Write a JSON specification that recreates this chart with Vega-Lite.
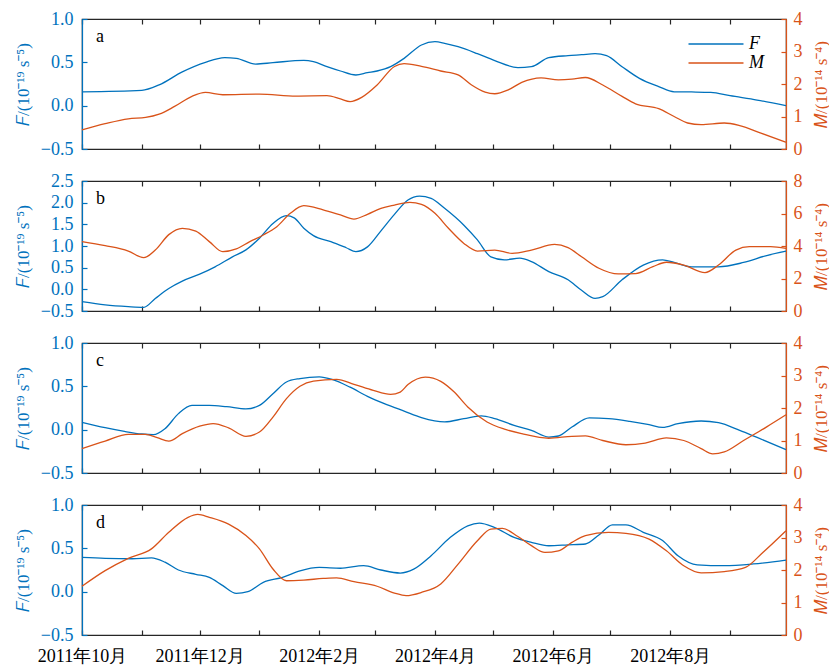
{
  "$schema": "https://vega.github.io/schema/vega-lite/v6.json",
  "background": "white",
  "padding": {"left": 13, "top": 9, "right": 0, "bottom": 5},
  "bounds": "flush",
  "spacing": 32,
  "config": {
    "view": {"stroke": "#262626", "strokeWidth": 1.2},
    "font": "Liberation Serif",
    "axis": {
      "grid": false,
      "labelFont": "Liberation Serif",
      "labelFontSize": 18,
      "titleFont": "Liberation Serif",
      "titleFontSize": 17,
      "titleFontWeight": "normal",
      "tickSize": -5,
      "tickWidth": 1.2,
      "domainWidth": 1.2
    },
    "line": {"strokeWidth": 1.3, "interpolate": "monotone"},
    "title": {"font": "Liberation Serif", "fontSize": 18, "fontWeight": "normal", "color": "#000000", "anchor": "start", "frame": "group", "offset": -36, "dx": 14, "baseline": "alphabetic"}
  },
  "datasets": {
    "aF": [
      {"t": "2011-10-01", "v": 0.16}, {"t": "2011-11-01", "v": 0.177}, {"t": "2011-11-10", "v": 0.24}, {"t": "2011-11-22", "v": 0.39},
      {"t": "2011-12-04", "v": 0.5}, {"t": "2011-12-14", "v": 0.554}, {"t": "2011-12-20", "v": 0.546}, {"t": "2011-12-30", "v": 0.48},
      {"t": "2012-01-08", "v": 0.496}, {"t": "2012-01-24", "v": 0.523}, {"t": "2012-01-29", "v": 0.508}, {"t": "2012-02-05", "v": 0.45},
      {"t": "2012-02-12", "v": 0.4}, {"t": "2012-02-20", "v": 0.354}, {"t": "2012-02-26", "v": 0.38}, {"t": "2012-03-02", "v": 0.4},
      {"t": "2012-03-09", "v": 0.45}, {"t": "2012-03-16", "v": 0.546}, {"t": "2012-03-25", "v": 0.7}, {"t": "2012-04-01", "v": 0.738},
      {"t": "2012-04-06", "v": 0.72}, {"t": "2012-04-13", "v": 0.68}, {"t": "2012-04-23", "v": 0.6}, {"t": "2012-05-02", "v": 0.52},
      {"t": "2012-05-14", "v": 0.44}, {"t": "2012-05-21", "v": 0.45}, {"t": "2012-05-30", "v": 0.554}, {"t": "2012-06-09", "v": 0.577},
      {"t": "2012-06-16", "v": 0.588}, {"t": "2012-06-23", "v": 0.6}, {"t": "2012-06-29", "v": 0.577}, {"t": "2012-07-07", "v": 0.45},
      {"t": "2012-07-16", "v": 0.315}, {"t": "2012-07-26", "v": 0.22}, {"t": "2012-08-03", "v": 0.16}, {"t": "2012-08-12", "v": 0.158},
      {"t": "2012-08-22", "v": 0.154}, {"t": "2012-09-01", "v": 0.115}, {"t": "2012-09-15", "v": 0.065}, {"t": "2012-09-30", "v": 0.0}
    ],
    "aM": [
      {"t": "2011-10-01", "v": 0.59}, {"t": "2011-10-13", "v": 0.78}, {"t": "2011-10-25", "v": 0.93}, {"t": "2011-11-03", "v": 0.97},
      {"t": "2011-11-10", "v": 1.07}, {"t": "2011-11-18", "v": 1.31}, {"t": "2011-11-27", "v": 1.62}, {"t": "2011-12-04", "v": 1.74},
      {"t": "2011-12-13", "v": 1.67}, {"t": "2012-01-01", "v": 1.69}, {"t": "2012-01-20", "v": 1.63}, {"t": "2012-02-05", "v": 1.64},
      {"t": "2012-02-12", "v": 1.54}, {"t": "2012-02-17", "v": 1.46}, {"t": "2012-02-23", "v": 1.59}, {"t": "2012-03-02", "v": 1.97},
      {"t": "2012-03-11", "v": 2.54}, {"t": "2012-03-16", "v": 2.63}, {"t": "2012-03-25", "v": 2.54}, {"t": "2012-04-04", "v": 2.4},
      {"t": "2012-04-13", "v": 2.28}, {"t": "2012-04-20", "v": 1.97}, {"t": "2012-04-27", "v": 1.75}, {"t": "2012-05-02", "v": 1.7},
      {"t": "2012-05-09", "v": 1.82}, {"t": "2012-05-16", "v": 2.05}, {"t": "2012-05-26", "v": 2.19}, {"t": "2012-06-04", "v": 2.13},
      {"t": "2012-06-11", "v": 2.15}, {"t": "2012-06-18", "v": 2.2}, {"t": "2012-06-27", "v": 1.97}, {"t": "2012-07-07", "v": 1.62},
      {"t": "2012-07-14", "v": 1.39}, {"t": "2012-07-26", "v": 1.24}, {"t": "2012-08-03", "v": 1.0}, {"t": "2012-08-10", "v": 0.8},
      {"t": "2012-08-17", "v": 0.75}, {"t": "2012-08-29", "v": 0.8}, {"t": "2012-09-06", "v": 0.72}, {"t": "2012-09-17", "v": 0.49},
      {"t": "2012-09-30", "v": 0.21}
    ],
    "bF": [
      {"t": "2011-10-01", "v": -0.285}, {"t": "2011-10-13", "v": -0.36}, {"t": "2011-10-25", "v": -0.4}, {"t": "2011-11-02", "v": -0.415},
      {"t": "2011-11-08", "v": -0.21}, {"t": "2011-11-15", "v": 0.02}, {"t": "2011-11-22", "v": 0.19}, {"t": "2011-12-01", "v": 0.35},
      {"t": "2011-12-09", "v": 0.52}, {"t": "2011-12-18", "v": 0.75}, {"t": "2011-12-25", "v": 0.91}, {"t": "2012-01-01", "v": 1.18},
      {"t": "2012-01-08", "v": 1.52}, {"t": "2012-01-15", "v": 1.7}, {"t": "2012-01-19", "v": 1.65}, {"t": "2012-01-24", "v": 1.41},
      {"t": "2012-01-29", "v": 1.24}, {"t": "2012-02-07", "v": 1.1}, {"t": "2012-02-15", "v": 0.96}, {"t": "2012-02-20", "v": 0.87},
      {"t": "2012-02-26", "v": 0.98}, {"t": "2012-03-04", "v": 1.35}, {"t": "2012-03-11", "v": 1.73}, {"t": "2012-03-18", "v": 2.06},
      {"t": "2012-03-24", "v": 2.15}, {"t": "2012-03-30", "v": 2.1}, {"t": "2012-04-06", "v": 1.87}, {"t": "2012-04-16", "v": 1.48},
      {"t": "2012-04-23", "v": 1.14}, {"t": "2012-04-30", "v": 0.75}, {"t": "2012-05-07", "v": 0.68}, {"t": "2012-05-15", "v": 0.72},
      {"t": "2012-05-21", "v": 0.64}, {"t": "2012-05-30", "v": 0.41}, {"t": "2012-06-09", "v": 0.22}, {"t": "2012-06-16", "v": -0.02},
      {"t": "2012-06-23", "v": -0.21}, {"t": "2012-06-27", "v": -0.17}, {"t": "2012-07-07", "v": 0.22}, {"t": "2012-07-18", "v": 0.56},
      {"t": "2012-07-28", "v": 0.68}, {"t": "2012-08-03", "v": 0.62}, {"t": "2012-08-12", "v": 0.52}, {"t": "2012-08-26", "v": 0.52},
      {"t": "2012-09-08", "v": 0.62}, {"t": "2012-09-20", "v": 0.78}, {"t": "2012-09-30", "v": 0.88}
    ],
    "bM": [
      {"t": "2011-10-01", "v": 4.27}, {"t": "2011-10-13", "v": 4.02}, {"t": "2011-10-25", "v": 3.69}, {"t": "2011-11-02", "v": 3.28},
      {"t": "2011-11-08", "v": 3.75}, {"t": "2011-11-15", "v": 4.7}, {"t": "2011-11-22", "v": 5.09}, {"t": "2011-11-29", "v": 4.92},
      {"t": "2011-12-06", "v": 4.27}, {"t": "2011-12-13", "v": 3.65}, {"t": "2011-12-20", "v": 3.82}, {"t": "2011-12-27", "v": 4.27},
      {"t": "2012-01-03", "v": 4.68}, {"t": "2012-01-10", "v": 5.19}, {"t": "2012-01-17", "v": 6.01}, {"t": "2012-01-24", "v": 6.48},
      {"t": "2012-02-03", "v": 6.22}, {"t": "2012-02-12", "v": 5.91}, {"t": "2012-02-19", "v": 5.66}, {"t": "2012-02-26", "v": 5.95},
      {"t": "2012-03-04", "v": 6.32}, {"t": "2012-03-11", "v": 6.52}, {"t": "2012-03-19", "v": 6.69}, {"t": "2012-03-25", "v": 6.56},
      {"t": "2012-04-01", "v": 6.01}, {"t": "2012-04-08", "v": 5.09}, {"t": "2012-04-16", "v": 4.16}, {"t": "2012-04-23", "v": 3.69},
      {"t": "2012-05-02", "v": 3.75}, {"t": "2012-05-11", "v": 3.55}, {"t": "2012-05-21", "v": 3.75}, {"t": "2012-06-02", "v": 4.1},
      {"t": "2012-06-09", "v": 3.9}, {"t": "2012-06-16", "v": 3.34}, {"t": "2012-06-25", "v": 2.63}, {"t": "2012-07-05", "v": 2.28},
      {"t": "2012-07-14", "v": 2.3}, {"t": "2012-07-23", "v": 2.73}, {"t": "2012-07-30", "v": 3.0}, {"t": "2012-08-08", "v": 2.83},
      {"t": "2012-08-19", "v": 2.36}, {"t": "2012-08-26", "v": 2.83}, {"t": "2012-09-04", "v": 3.75}, {"t": "2012-09-11", "v": 3.96},
      {"t": "2012-09-22", "v": 3.96}, {"t": "2012-09-30", "v": 3.86}
    ],
    "cF": [
      {"t": "2011-10-01", "v": 0.085}, {"t": "2011-10-13", "v": 0.023}, {"t": "2011-10-23", "v": -0.02}, {"t": "2011-11-01", "v": -0.05},
      {"t": "2011-11-07", "v": -0.058}, {"t": "2011-11-13", "v": 0.01}, {"t": "2011-11-20", "v": 0.185}, {"t": "2011-11-27", "v": 0.28},
      {"t": "2011-12-06", "v": 0.28}, {"t": "2011-12-15", "v": 0.265}, {"t": "2011-12-25", "v": 0.24}, {"t": "2012-01-01", "v": 0.28},
      {"t": "2012-01-08", "v": 0.415}, {"t": "2012-01-15", "v": 0.55}, {"t": "2012-01-22", "v": 0.59}, {"t": "2012-02-01", "v": 0.61},
      {"t": "2012-02-08", "v": 0.577}, {"t": "2012-02-17", "v": 0.49}, {"t": "2012-02-26", "v": 0.385}, {"t": "2012-03-07", "v": 0.29},
      {"t": "2012-03-16", "v": 0.215}, {"t": "2012-03-25", "v": 0.14}, {"t": "2012-04-06", "v": 0.09}, {"t": "2012-04-16", "v": 0.127},
      {"t": "2012-04-25", "v": 0.158}, {"t": "2012-05-02", "v": 0.127}, {"t": "2012-05-12", "v": 0.05}, {"t": "2012-05-21", "v": -0.008},
      {"t": "2012-05-30", "v": -0.085}, {"t": "2012-06-04", "v": -0.073}, {"t": "2012-06-11", "v": 0.03}, {"t": "2012-06-20", "v": 0.135},
      {"t": "2012-06-30", "v": 0.127}, {"t": "2012-07-11", "v": 0.096}, {"t": "2012-07-21", "v": 0.058}, {"t": "2012-07-28", "v": 0.027},
      {"t": "2012-08-05", "v": 0.07}, {"t": "2012-08-17", "v": 0.1}, {"t": "2012-08-26", "v": 0.08}, {"t": "2012-09-06", "v": -0.008},
      {"t": "2012-09-15", "v": -0.09}, {"t": "2012-09-30", "v": -0.23}
    ],
    "cM": [
      {"t": "2011-10-01", "v": 0.75}, {"t": "2011-10-13", "v": 0.98}, {"t": "2011-10-25", "v": 1.19}, {"t": "2011-11-03", "v": 1.19},
      {"t": "2011-11-09", "v": 1.09}, {"t": "2011-11-15", "v": 0.98}, {"t": "2011-11-22", "v": 1.21}, {"t": "2011-12-01", "v": 1.44},
      {"t": "2011-12-08", "v": 1.52}, {"t": "2011-12-16", "v": 1.39}, {"t": "2011-12-25", "v": 1.13}, {"t": "2012-01-01", "v": 1.26},
      {"t": "2012-01-08", "v": 1.72}, {"t": "2012-01-15", "v": 2.29}, {"t": "2012-01-22", "v": 2.67}, {"t": "2012-01-29", "v": 2.83},
      {"t": "2012-02-10", "v": 2.88}, {"t": "2012-02-19", "v": 2.73}, {"t": "2012-02-29", "v": 2.54}, {"t": "2012-03-09", "v": 2.42},
      {"t": "2012-03-14", "v": 2.49}, {"t": "2012-03-18", "v": 2.72}, {"t": "2012-03-27", "v": 2.95}, {"t": "2012-04-04", "v": 2.82},
      {"t": "2012-04-11", "v": 2.49}, {"t": "2012-04-18", "v": 2.03}, {"t": "2012-04-28", "v": 1.57}, {"t": "2012-05-07", "v": 1.35},
      {"t": "2012-05-16", "v": 1.21}, {"t": "2012-05-30", "v": 1.07}, {"t": "2012-06-11", "v": 1.13}, {"t": "2012-06-18", "v": 1.14},
      {"t": "2012-06-27", "v": 1.0}, {"t": "2012-07-09", "v": 0.87}, {"t": "2012-07-19", "v": 0.92}, {"t": "2012-07-30", "v": 1.08},
      {"t": "2012-08-08", "v": 1.0}, {"t": "2012-08-17", "v": 0.75}, {"t": "2012-08-23", "v": 0.59}, {"t": "2012-08-29", "v": 0.65},
      {"t": "2012-09-08", "v": 1.0}, {"t": "2012-09-20", "v": 1.42}, {"t": "2012-09-30", "v": 1.79}
    ],
    "dF": [
      {"t": "2011-10-01", "v": 0.396}, {"t": "2011-10-13", "v": 0.385}, {"t": "2011-10-27", "v": 0.38}, {"t": "2011-11-06", "v": 0.39},
      {"t": "2011-11-13", "v": 0.34}, {"t": "2011-11-20", "v": 0.25}, {"t": "2011-11-29", "v": 0.2}, {"t": "2011-12-06", "v": 0.165},
      {"t": "2011-12-13", "v": 0.07}, {"t": "2011-12-20", "v": -0.02}, {"t": "2011-12-26", "v": 0.0}, {"t": "2012-01-03", "v": 0.108},
      {"t": "2012-01-13", "v": 0.165}, {"t": "2012-01-22", "v": 0.24}, {"t": "2012-02-01", "v": 0.28}, {"t": "2012-02-12", "v": 0.27},
      {"t": "2012-02-24", "v": 0.3}, {"t": "2012-03-04", "v": 0.25}, {"t": "2012-03-14", "v": 0.215}, {"t": "2012-03-21", "v": 0.26},
      {"t": "2012-03-30", "v": 0.415}, {"t": "2012-04-09", "v": 0.627}, {"t": "2012-04-18", "v": 0.76}, {"t": "2012-04-24", "v": 0.79},
      {"t": "2012-05-02", "v": 0.74}, {"t": "2012-05-12", "v": 0.627}, {"t": "2012-05-21", "v": 0.57}, {"t": "2012-05-30", "v": 0.53},
      {"t": "2012-06-09", "v": 0.54}, {"t": "2012-06-18", "v": 0.55}, {"t": "2012-06-25", "v": 0.654}, {"t": "2012-07-02", "v": 0.77},
      {"t": "2012-07-09", "v": 0.77}, {"t": "2012-07-18", "v": 0.685}, {"t": "2012-07-28", "v": 0.59}, {"t": "2012-08-05", "v": 0.415},
      {"t": "2012-08-15", "v": 0.31}, {"t": "2012-08-29", "v": 0.3}, {"t": "2012-09-13", "v": 0.32}, {"t": "2012-09-30", "v": 0.365}
    ],
    "dM": [
      {"t": "2011-10-01", "v": 1.5}, {"t": "2011-10-13", "v": 1.98}, {"t": "2011-10-25", "v": 2.36}, {"t": "2011-11-06", "v": 2.65},
      {"t": "2011-11-15", "v": 3.16}, {"t": "2011-11-25", "v": 3.62}, {"t": "2011-11-30", "v": 3.71}, {"t": "2011-12-06", "v": 3.62},
      {"t": "2011-12-16", "v": 3.41}, {"t": "2011-12-25", "v": 3.06}, {"t": "2012-01-01", "v": 2.65}, {"t": "2012-01-08", "v": 2.03},
      {"t": "2012-01-15", "v": 1.67}, {"t": "2012-01-24", "v": 1.69}, {"t": "2012-02-03", "v": 1.74}, {"t": "2012-02-10", "v": 1.76},
      {"t": "2012-02-19", "v": 1.64}, {"t": "2012-03-02", "v": 1.5}, {"t": "2012-03-11", "v": 1.29}, {"t": "2012-03-17", "v": 1.21},
      {"t": "2012-03-25", "v": 1.31}, {"t": "2012-04-04", "v": 1.57}, {"t": "2012-04-13", "v": 2.18}, {"t": "2012-04-23", "v": 2.9},
      {"t": "2012-04-30", "v": 3.26}, {"t": "2012-05-06", "v": 3.28}, {"t": "2012-05-14", "v": 3.03}, {"t": "2012-05-21", "v": 2.75},
      {"t": "2012-05-28", "v": 2.54}, {"t": "2012-06-04", "v": 2.59}, {"t": "2012-06-11", "v": 2.85}, {"t": "2012-06-18", "v": 3.06},
      {"t": "2012-06-30", "v": 3.16}, {"t": "2012-07-09", "v": 3.13}, {"t": "2012-07-21", "v": 2.95}, {"t": "2012-07-30", "v": 2.59},
      {"t": "2012-08-08", "v": 2.13}, {"t": "2012-08-17", "v": 1.91}, {"t": "2012-08-29", "v": 1.95}, {"t": "2012-09-09", "v": 2.08},
      {"t": "2012-09-18", "v": 2.54}, {"t": "2012-09-30", "v": 3.21}
    ]
  },
  "vconcat": [
    {
      "width": 704, "height": 130,
      "title": {"text": "a"},
      "layer": [
        {
          "data": {"name": "aF"},
          "mark": {"type": "line"},
          "encoding": {
            "x": {"field": "t", "type": "temporal",
              "scale": {"type": "utc", "domain": [{"year": 2011, "month": 10, "date": 1, "utc": true}, {"year": 2012, "month": 9, "date": 30, "utc": true}]},
              "axis": {"orient": "bottom", "title": null, "labels": false, "tickCount": {"interval": "month", "step": 1}, "domainColor": "#262626", "tickColor": "#262626"}},
            "y": {"field": "v", "type": "quantitative", "scale": {"domain": [-0.5, 1], "nice": false},
              "axis": {"orient": "left", "title": "𝐹/(10⁻¹⁹ s⁻⁵)", "values": [-0.5, 0, 0.5, 1], "format": ".1f", "labelPadding": 14, "titlePadding": 8, "domainColor": "#0072BD", "tickColor": "#0072BD", "labelColor": "#0072BD", "titleColor": "#0072BD"}},
            "color": {"datum": "F", "type": "nominal",
              "scale": {"domain": ["F", "M"], "range": ["#0072BD", "#D95319"]},
              "legend": {"orient": "none", "legendX": 624, "legendY": 15, "title": null, "symbolType": "M-3,0H3", "symbolSize": 336, "symbolStrokeWidth": 1.3, "symbolFillColor": "transparent", "labelFont": "Liberation Serif", "labelFontStyle": "italic", "labelFontSize": 18, "labelOffset": 23, "rowPadding": 0, "padding": 0,
                "encode": {"labels": {"update": {"fill": {"signal": "datum.value === 'F' ? '#0072BD' : '#D95319'"}}}}}}
          }
        },
        {
          "data": {"name": "aM"},
          "mark": {"type": "line"},
          "encoding": {
            "x": {"field": "t", "type": "temporal",
              "axis": {"orient": "top", "title": null, "labels": false, "domain": false, "tickCount": {"interval": "month", "step": 1}, "tickColor": "#262626"}},
            "y": {"field": "v", "type": "quantitative", "scale": {"domain": [0, 4], "nice": false},
              "axis": {"orient": "right", "title": "𝑀/(10⁻¹⁴ s⁻⁴)", "titleAngle": 270, "titleBaseline": "top", "values": [0, 1, 2, 3, 4], "format": "d", "labelPadding": 12, "titlePadding": 11, "domainColor": "#D95319", "tickColor": "#D95319", "labelColor": "#D95319", "titleColor": "#D95319"}},
            "color": {"datum": "M", "type": "nominal"}
          }
        }
      ],
      "resolve": {"scale": {"y": "independent"}, "axis": {"x": "independent"}}
    },
    {
      "width": 704, "height": 130,
      "title": {"text": "b"},
      "layer": [
        {
          "data": {"name": "bF"},
          "mark": {"type": "line", "color": "#0072BD"},
          "encoding": {
            "x": {"field": "t", "type": "temporal",
              "scale": {"type": "utc", "domain": [{"year": 2011, "month": 10, "date": 1, "utc": true}, {"year": 2012, "month": 9, "date": 30, "utc": true}]},
              "axis": {"orient": "bottom", "title": null, "labels": false, "tickCount": {"interval": "month", "step": 1}, "domainColor": "#262626", "tickColor": "#262626"}},
            "y": {"field": "v", "type": "quantitative", "scale": {"domain": [-0.5, 2.5], "nice": false},
              "axis": {"orient": "left", "title": "𝐹/(10⁻¹⁹ s⁻⁵)", "values": [-0.5, 0, 0.5, 1, 1.5, 2, 2.5], "format": ".1f", "labelPadding": 14, "titlePadding": 8, "domainColor": "#0072BD", "tickColor": "#0072BD", "labelColor": "#0072BD", "titleColor": "#0072BD"}}
          }
        },
        {
          "data": {"name": "bM"},
          "mark": {"type": "line", "color": "#D95319"},
          "encoding": {
            "x": {"field": "t", "type": "temporal",
              "axis": {"orient": "top", "title": null, "labels": false, "domain": false, "tickCount": {"interval": "month", "step": 1}, "tickColor": "#262626"}},
            "y": {"field": "v", "type": "quantitative", "scale": {"domain": [0, 8], "nice": false},
              "axis": {"orient": "right", "title": "𝑀/(10⁻¹⁴ s⁻⁴)", "titleAngle": 270, "titleBaseline": "top", "values": [0, 2, 4, 6, 8], "format": "d", "labelPadding": 12, "titlePadding": 11, "domainColor": "#D95319", "tickColor": "#D95319", "labelColor": "#D95319", "titleColor": "#D95319"}}
          }
        }
      ],
      "resolve": {"scale": {"y": "independent"}, "axis": {"x": "independent"}}
    },
    {
      "width": 704, "height": 130,
      "title": {"text": "c"},
      "layer": [
        {
          "data": {"name": "cF"},
          "mark": {"type": "line", "color": "#0072BD"},
          "encoding": {
            "x": {"field": "t", "type": "temporal",
              "scale": {"type": "utc", "domain": [{"year": 2011, "month": 10, "date": 1, "utc": true}, {"year": 2012, "month": 9, "date": 30, "utc": true}]},
              "axis": {"orient": "bottom", "title": null, "labels": false, "tickCount": {"interval": "month", "step": 1}, "domainColor": "#262626", "tickColor": "#262626"}},
            "y": {"field": "v", "type": "quantitative", "scale": {"domain": [-0.5, 1], "nice": false},
              "axis": {"orient": "left", "title": "𝐹/(10⁻¹⁹ s⁻⁵)", "values": [-0.5, 0, 0.5, 1], "format": ".1f", "labelPadding": 14, "titlePadding": 8, "domainColor": "#0072BD", "tickColor": "#0072BD", "labelColor": "#0072BD", "titleColor": "#0072BD"}}
          }
        },
        {
          "data": {"name": "cM"},
          "mark": {"type": "line", "color": "#D95319"},
          "encoding": {
            "x": {"field": "t", "type": "temporal",
              "axis": {"orient": "top", "title": null, "labels": false, "domain": false, "tickCount": {"interval": "month", "step": 1}, "tickColor": "#262626"}},
            "y": {"field": "v", "type": "quantitative", "scale": {"domain": [0, 4], "nice": false},
              "axis": {"orient": "right", "title": "𝑀/(10⁻¹⁴ s⁻⁴)", "titleAngle": 270, "titleBaseline": "top", "values": [0, 1, 2, 3, 4], "format": "d", "labelPadding": 12, "titlePadding": 11, "domainColor": "#D95319", "tickColor": "#D95319", "labelColor": "#D95319", "titleColor": "#D95319"}}
          }
        }
      ],
      "resolve": {"scale": {"y": "independent"}, "axis": {"x": "independent"}}
    },
    {
      "width": 704, "height": 130,
      "title": {"text": "d"},
      "layer": [
        {
          "data": {"name": "dF"},
          "mark": {"type": "line", "color": "#0072BD"},
          "encoding": {
            "x": {"field": "t", "type": "temporal",
              "scale": {"type": "utc", "domain": [{"year": 2011, "month": 10, "date": 1, "utc": true}, {"year": 2012, "month": 9, "date": 30, "utc": true}]},
              "axis": {"orient": "bottom", "title": null, "tickCount": {"interval": "month", "step": 1}, "domainColor": "#262626", "tickColor": "#262626", "labelColor": "#000000", "labelPadding": 17, "labelOverlap": false, "labelFlush": false, "labelBound": false,
                "labelExpr": "utcmonth(datum.value) % 2 == 1 ? utcyear(datum.value) + '年' + (utcmonth(datum.value) + 1) + '月' : ''"}},
            "y": {"field": "v", "type": "quantitative", "scale": {"domain": [-0.5, 1], "nice": false},
              "axis": {"orient": "left", "title": "𝐹/(10⁻¹⁹ s⁻⁵)", "values": [-0.5, 0, 0.5, 1], "format": ".1f", "labelPadding": 14, "titlePadding": 8, "domainColor": "#0072BD", "tickColor": "#0072BD", "labelColor": "#0072BD", "titleColor": "#0072BD"}}
          }
        },
        {
          "data": {"name": "dM"},
          "mark": {"type": "line", "color": "#D95319"},
          "encoding": {
            "x": {"field": "t", "type": "temporal",
              "axis": {"orient": "top", "title": null, "labels": false, "domain": false, "tickCount": {"interval": "month", "step": 1}, "tickColor": "#262626"}},
            "y": {"field": "v", "type": "quantitative", "scale": {"domain": [0, 4], "nice": false},
              "axis": {"orient": "right", "title": "𝑀/(10⁻¹⁴ s⁻⁴)", "titleAngle": 270, "titleBaseline": "top", "values": [0, 1, 2, 3, 4], "format": "d", "labelPadding": 12, "titlePadding": 11, "domainColor": "#D95319", "tickColor": "#D95319", "labelColor": "#D95319", "titleColor": "#D95319"}}
          }
        }
      ],
      "resolve": {"scale": {"y": "independent"}, "axis": {"x": "independent"}}
    }
  ]
}
